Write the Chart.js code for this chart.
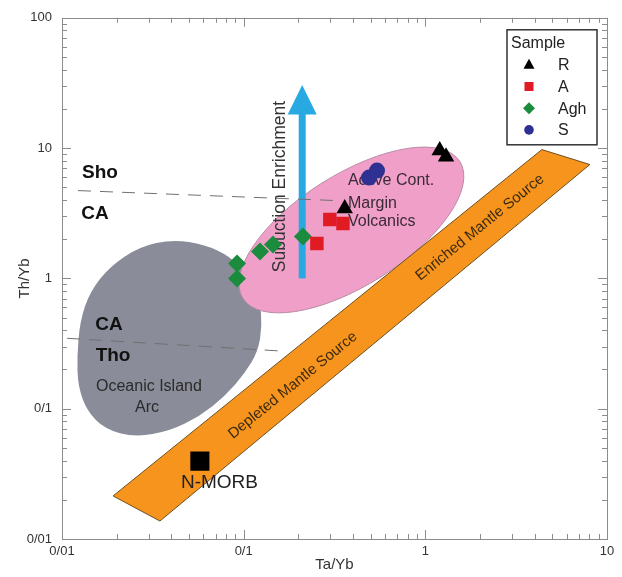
<!DOCTYPE html>
<html>
<head>
<meta charset="utf-8">
<script src="https://cdn.jsdelivr.net/npm/chart.js@4.4.1/dist/chart.umd.min.js"></script>
<style>
  html, body { margin: 0; padding: 0; background: #fff; }
  canvas { display: block; }
</style>
</head>
<body>
<canvas id="grafico" width="622" height="577"></canvas>
<script>
// amostras (Ta/Yb, Th/Yb)
const nomesAmostras = ['R', 'A', 'Agh', 'S'];
const rTaYb = [0.36, 1.20, 1.30];
const rThYb = [3.44, 9.57, 8.6];
const aTaYb = [0.298, 0.352, 0.253];
const aThYb = [2.83, 2.64, 1.85];
const aghTaYb = [0.092, 0.092, 0.123, 0.145, 0.212];
const aghThYb = [1.30, 1.00, 1.61, 1.82, 2.10];
const sTaYb = [0.49, 0.542];
const sThYb = [5.94, 6.72];
const nMorb = [0.0574, 0.0396];

// eixos
const xTicks = [0.01, 0.1, 1, 10];
const xTickLabels = ['0/01', '0/1', '1', '10'];
const yTicks = [0.01, 0.1, 1, 10, 100];
const yTickLabels = ['0/01', '0/1', '1', '10', '100'];

// campos do diagrama (coordenadas Ta/Yb, Th/Yb)
const linhaShoCA = [[0.01225, 4.72], [0.318, 3.96]];
const linhaCATho = [[0.01066, 0.347], [0.1686, 0.276]];
const mantleArray = [[0.0191, 0.0214], [4.38, 9.74], [8.05, 7.48], [0.0346, 0.01374]];
const arcoOceanico = [
  [0.0408, 1.99], [0.0612, 1.82], [0.0841, 1.475], [0.1084, 1.036], [0.1230, 0.667],
  [0.1262, 0.429], [0.1200, 0.276], [0.1016, 0.187], [0.0789, 0.1247], [0.0574, 0.0877],
  [0.0393, 0.0673], [0.0252, 0.0605], [0.01726, 0.0697], [0.01374, 0.0957], [0.01225, 0.1486],
  [0.01210, 0.252], [0.01256, 0.468], [0.01426, 0.795], [0.01836, 1.236], [0.0268, 1.76]
];
const margemAtiva = { ponta1: [0.0991, 0.703], ponta2: [1.55, 7.88], lado: [0.27, 5.4] };
const seta = { x: 0.21, base: 1.0, cabeca: 18.1, ponta: 30.5 };

// textos do diagrama
const textos = [
  { t: 'Sho', x: 0.01618, y: 6.49, font: 'bold 19px "Liberation Sans", Arial', cor: '#111' },
  { t: 'CA', x: 0.0152, y: 3.15, font: 'bold 19px "Liberation Sans", Arial', cor: '#111' },
  { t: 'CA', x: 0.01815, y: 0.444, font: 'bold 19px "Liberation Sans", Arial', cor: '#111' },
  { t: 'Tho', x: 0.0191, y: 0.257, font: 'bold 19px "Liberation Sans", Arial', cor: '#111' },
  { t: 'Oceanic Island', x: 0.0301, y: 0.1486, font: '16px "Liberation Sans", Arial', cor: '#2a2a2a' },
  { t: 'Arc', x: 0.0294, y: 0.1026, font: '16px "Liberation Sans", Arial', cor: '#2a2a2a' },
  { t: 'Active Cont.', x: 0.375, y: 5.64, font: '16px "Liberation Sans", Arial', cor: '#3a2a36', align: 'left' },
  { t: 'Margin', x: 0.375, y: 3.76, font: '16px "Liberation Sans", Arial', cor: '#3a2a36', align: 'left' },
  { t: 'Volcanics', x: 0.375, y: 2.73, font: '16px "Liberation Sans", Arial', cor: '#3a2a36', align: 'left' },
  { t: 'Subuction Enrichment', x: 0.1585, y: 5.07, font: '17.5px "Liberation Sans", Arial', cor: '#333', rot: -90 },
  { t: 'Depleted Mantle Source', x: 0.1866, y: 0.151, font: '15px "Liberation Sans", Arial', cor: '#3b2a10', rot: 'banda' },
  { t: 'Enriched Mantle Source', x: 2.0, y: 2.46, font: '15px "Liberation Sans", Arial', cor: '#3b2a10', rot: 'banda' },
  { t: 'N-MORB', x: 0.0736, y: 0.0269, font: '19px "Liberation Sans", Arial', cor: '#222' }
];

const pares = (xs, ys) => xs.map((x, i) => ({ x: x, y: ys[i] }));
const linha = (pts) => pts.map(p => ({ x: p[0], y: p[1] }));

// desenha os campos, a seta e os textos por baixo dos pontos
const camposPlugin = {
  id: 'campos',
  beforeDatasetsDraw(chart) {
    const ctx = chart.ctx;
    const sx = chart.scales.x, sy = chart.scales.y;
    const P = (p) => [sx.getPixelForValue(p[0]), sy.getPixelForValue(p[1])];
    const area = chart.chartArea;
    ctx.save();
    ctx.beginPath();
    ctx.rect(area.left, area.top, area.right - area.left, area.bottom - area.top);
    ctx.clip();

    // Oceanic Island Arc (contorno suave)
    const pts = arcoOceanico.map(P);
    const n = pts.length;
    const meio = (a, b) => [(a[0] + b[0]) / 2, (a[1] + b[1]) / 2];
    ctx.beginPath();
    let m0 = meio(pts[n - 1], pts[0]);
    ctx.moveTo(m0[0], m0[1]);
    for (let i = 0; i < n; i++) {
      const m = meio(pts[i], pts[(i + 1) % n]);
      ctx.quadraticCurveTo(pts[i][0], pts[i][1], m[0], m[1]);
    }
    ctx.closePath();
    ctx.fillStyle = '#8a8d99';
    ctx.fill();

    // Active Continental Margin (elipse)
    const e1 = P(margemAtiva.ponta1), e2 = P(margemAtiva.ponta2), el = P(margemAtiva.lado);
    const cx = (e1[0] + e2[0]) / 2, cy = (e1[1] + e2[1]) / 2;
    const ang = Math.atan2(e2[1] - e1[1], e2[0] - e1[0]);
    const semiA = Math.hypot(e2[0] - e1[0], e2[1] - e1[1]) / 2;
    const semiB = Math.abs(-(el[0] - cx) * Math.sin(ang) + (el[1] - cy) * Math.cos(ang));
    ctx.beginPath();
    ctx.ellipse(cx, cy, semiA, semiB, ang, 0, Math.PI * 2);
    ctx.fillStyle = '#f0a0c8';
    ctx.fill();
    ctx.strokeStyle = '#b98aa3';
    ctx.lineWidth = 1;
    ctx.stroke();

    // mantle array
    const ma = mantleArray.map(P);
    ctx.beginPath();
    ma.forEach((p, i) => i ? ctx.lineTo(p[0], p[1]) : ctx.moveTo(p[0], p[1]));
    ctx.closePath();
    ctx.fillStyle = '#f7941d';
    ctx.fill();
    ctx.strokeStyle = '#6e5020';
    ctx.lineWidth = 1;
    ctx.stroke();
    const anguloBanda = Math.atan2(ma[1][1] - ma[0][1], ma[1][0] - ma[0][0]);

    // seta de enriquecimento por subducção
    const sb = P([seta.x, seta.base]), sc = P([seta.x, seta.cabeca]), sp = P([seta.x, seta.ponta]);
    ctx.fillStyle = '#29a9e1';
    ctx.fillRect(sb[0] - 3.5, sc[1] - 1, 7, sb[1] - sc[1] + 1);
    ctx.beginPath();
    ctx.moveTo(sp[0], sp[1]);
    ctx.lineTo(sc[0] + 14.5, sc[1]);
    ctx.lineTo(sc[0] - 14.5, sc[1]);
    ctx.closePath();
    ctx.fill();

    // textos
    textos.forEach(tx => {
      const p = P([tx.x, tx.y]);
      ctx.save();
      ctx.translate(p[0], p[1]);
      if (tx.rot === 'banda') ctx.rotate(anguloBanda);
      else if (tx.rot) ctx.rotate(tx.rot * Math.PI / 180);
      ctx.font = tx.font;
      ctx.fillStyle = tx.cor;
      ctx.textAlign = tx.align || 'center';
      ctx.textBaseline = 'middle';
      ctx.fillText(tx.t, 0, 0);
      ctx.restore();
    });
    ctx.restore();
  },
  afterDraw(chart) {
    const ctx = chart.ctx;
    const a = chart.chartArea;
    const sx = chart.scales.x, sy = chart.scales.y;
    ctx.save();
    // moldura e marcas para dentro
    ctx.strokeStyle = '#8c8c8c';
    ctx.lineWidth = 1;
    ctx.strokeRect(Math.round(a.left) + 0.5, Math.round(a.top) + 0.5, Math.round(a.right - a.left), Math.round(a.bottom - a.top));
    ctx.beginPath();
    for (let d = -2; d <= 1; d++) {
      for (let k = 1; k <= 9; k++) {
        const v = k * Math.pow(10, d);
        if (v > 10) continue;
        const len = k === 1 ? 9 : 5;
        const x = Math.round(sx.getPixelForValue(v)) + 0.5;
        ctx.moveTo(x, a.bottom); ctx.lineTo(x, a.bottom - len);
        ctx.moveTo(x, a.top); ctx.lineTo(x, a.top + len);
      }
    }
    for (let d = -2; d <= 2; d++) {
      for (let k = 1; k <= 9; k++) {
        const v = k * Math.pow(10, d);
        if (v > 100) continue;
        const len = k === 1 ? 9 : 5;
        const y = Math.round(sy.getPixelForValue(v)) + 0.5;
        ctx.moveTo(a.left, y); ctx.lineTo(a.left + len, y);
        ctx.moveTo(a.right, y); ctx.lineTo(a.right - len, y);
      }
    }
    ctx.stroke();

    // legenda
    const bx = a.right - 100, by = a.top + 12, bw = 90, bh = 115;
    ctx.fillStyle = '#fff';
    ctx.fillRect(bx, by, bw, bh);
    ctx.strokeStyle = '#333';
    ctx.lineWidth = 1.5;
    ctx.strokeRect(bx, by, bw, bh);
    ctx.fillStyle = '#222';
    ctx.font = '16px "Liberation Sans", Arial';
    ctx.textAlign = 'left';
    ctx.textBaseline = 'middle';
    ctx.fillText('Sample', bx + 4, by + 14);
    const mx = bx + 22;
    chart.data.datasets.slice(0, nomesAmostras.length).forEach((ds, i) => {
      const y = by + 35 + i * 21.7;
      ctx.fillStyle = ds.backgroundColor;
      ctx.beginPath();
      if (ds.pointStyle === 'triangle') {
        ctx.moveTo(mx, y - 6); ctx.lineTo(mx + 5.5, y + 4); ctx.lineTo(mx - 5.5, y + 4);
      } else if (ds.pointStyle === 'rect') {
        ctx.rect(mx - 4.5, y - 4.5, 9, 9);
      } else if (ds.pointStyle === 'rectRot') {
        ctx.moveTo(mx, y - 6); ctx.lineTo(mx + 6, y); ctx.lineTo(mx, y + 6); ctx.lineTo(mx - 6, y);
      } else {
        ctx.arc(mx, y, 4.8, 0, Math.PI * 2);
      }
      ctx.closePath();
      ctx.fill();
      ctx.fillStyle = '#222';
      ctx.fillText(nomesAmostras[i], bx + 51, y + 1);
    });
    ctx.restore();
  }
};

const ctx = document.getElementById('grafico').getContext('2d');
const grafico = new Chart(ctx, {
  type: 'scatter',
  data: {
    datasets: [
      { label: 'R', data: pares(rTaYb, rThYb), pointStyle: 'triangle', pointRadius: 9.5, backgroundColor: '#000', borderColor: '#000', borderWidth: 0 },
      { label: 'A', data: pares(aTaYb, aThYb), pointStyle: 'rect', pointRadius: 9.5, backgroundColor: '#e01b24', borderColor: '#e01b24', borderWidth: 0 },
      { label: 'Agh', data: pares(aghTaYb, aghThYb), pointStyle: 'rectRot', pointRadius: 9, backgroundColor: '#1b8c3e', borderColor: '#1b8c3e', borderWidth: 0 },
      { label: 'S', data: pares(sTaYb, sThYb), pointStyle: 'circle', pointRadius: 8, backgroundColor: '#2e3192', borderColor: '#2e3192', borderWidth: 0 },
      { label: 'N-MORB', data: [{ x: nMorb[0], y: nMorb[1] }], pointStyle: 'rect', pointRadius: 13.5, backgroundColor: '#000', borderColor: '#000', borderWidth: 0 },
      { label: 'Sho/CA', data: linha(linhaShoCA), showLine: true, pointRadius: 0, borderColor: '#707070', borderWidth: 1, borderDash: [13, 9] },
      { label: 'CA/Tho', data: linha(linhaCATho), showLine: true, pointRadius: 0, borderColor: '#707070', borderWidth: 1, borderDash: [13, 9] }
    ]
  },
  options: {
    responsive: false,
    animation: false,
    events: [],
    layout: { padding: { top: 16, right: 15, left: 0, bottom: 0 } },
    plugins: {
      legend: { display: false },
      tooltip: { enabled: false }
    },
    scales: {
      x: {
        type: 'logarithmic',
        min: 0.01,
        max: 10,
        grid: { display: false, drawTicks: false },
        border: { display: false },
        afterBuildTicks: (scale) => { scale.ticks = xTicks.map(v => ({ value: v })); },
        afterFit: (scale) => { scale.height = 38; },
        ticks: {
          autoSkip: false,
          maxRotation: 0,
          padding: 5,
          color: '#333',
          font: { family: '"Liberation Sans", Arial', size: 13 },
          callback: (value, index) => xTickLabels[index]
        },
        title: {
          display: true,
          text: 'Ta/Yb',
          color: '#333',
          font: { family: '"Liberation Sans", Arial', size: 15 },
          padding: { top: 0, bottom: 3 }
        }
      },
      y: {
        type: 'logarithmic',
        min: 0.01,
        max: 100,
        grid: { display: false, drawTicks: false },
        border: { display: false },
        afterBuildTicks: (scale) => { scale.ticks = yTicks.map(v => ({ value: v })); },
        afterFit: (scale) => { scale.width = 62; },
        ticks: {
          autoSkip: false,
          padding: 10,
          color: '#333',
          font: { family: '"Liberation Sans", Arial', size: 13 },
          callback: (value, index) => yTickLabels[index]
        },
        title: {
          display: true,
          text: 'Th/Yb',
          color: '#333',
          font: { family: '"Liberation Sans", Arial', size: 15 },
          padding: { top: 16, bottom: 0 }
        }
      }
    }
  },
  plugins: [camposPlugin]
});
</script>
</body>
</html>
